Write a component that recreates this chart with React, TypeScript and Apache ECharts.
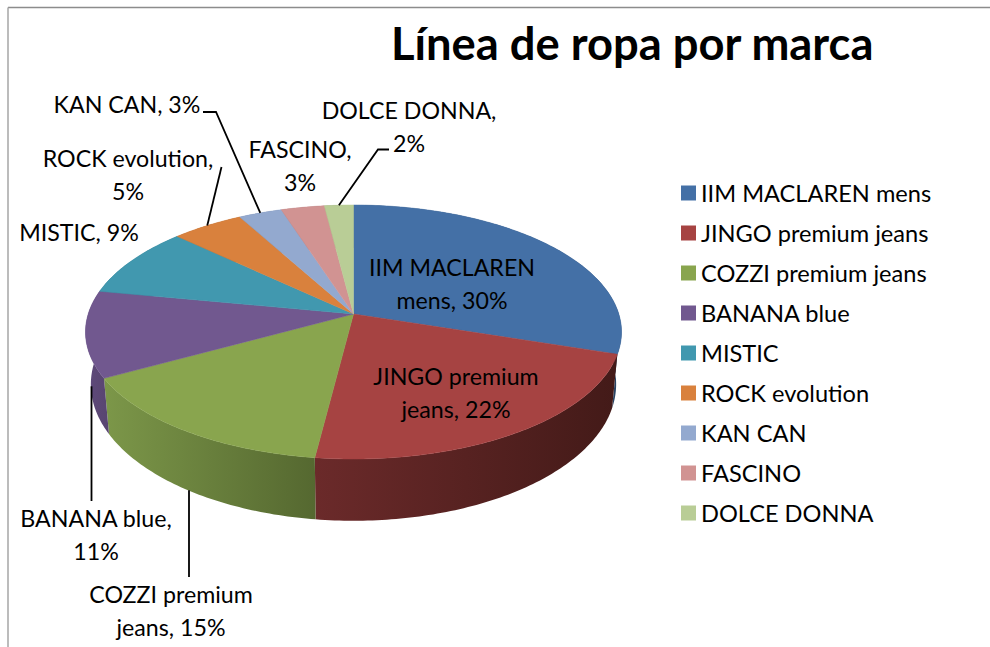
import React, { useEffect, useRef } from "react";
import * as echarts from "echarts";

const brands = ["IIM MACLAREN mens", "JINGO premium jeans", "COZZI premium jeans", "BANANA blue", "MISTIC", "ROCK evolution", "KAN CAN", "FASCINO", "DOLCE DONNA"];
const shares = [30, 22, 15, 11, 9, 5, 3, 3, 2];
const topColors = ["#4470a6", "#a64342", "#89a54e", "#71588f", "#4198af", "#d9813d", "#93a9cf", "#d19392", "#b9cd96"];
const sideLeft = ["#2f4e75", "#6b2a2a", "#7c9749", "#5f4a7b", "#2d6c7c", "#99592a", "#66769a", "#936665", "#82916a"];
const sideRight = ["#294464", "#431a18", "#556830", "#584570", "#2d6c7c", "#99592a", "#66769a", "#936665", "#82916a"];

// Where each label sits (centre x, centre y), the char index of its line break, elbow points of its leader
const labelSpots = [
  [452, 283], [456, 392.5], [171, 610.5], [96, 534.5], [79, 231.5], [128, 174], [127, 103.5], [300, 165], [409, 126],
];
const labelBreaks = [12, 13, 13, 12, -1, 15, -1, 8, 12];
const leaderPaths: (number[][] | null)[] = [
  null, null, [[189, 577]], [[91.5, 501]], null, [[221.5, 167]], [[203, 112], [216, 112]], null, [[389, 149.5], [378, 149.5]],
];

const CX = 353.5;
const total = shares.reduce((a, b) => a + b, 0);

// perspective projection of the pie's top disc
const rim = (pct: number) => {
  const t = (pct / total) * 2 * Math.PI;
  const u = Math.sin(t);
  const v = -Math.cos(t);
  const d = 1 - 0.1417 * v;
  return [CX + (265.3 * u) / d, (79.94 * v + 314) / d];
};
const lower = (p: number[]) => [CX + 0.98 * (p[0] - CX), 409 + 1.075 * (p[1] - 355)];

const renderSlice = (params: any, api: any) => {
  const i = params.seriesIndex;
  const value = api.value(0);
  const start = shares.slice(0, i).reduce((a, b) => a + b, 0);
  const end = start + value;
  const arc: number[][] = [];
  const steps = Math.max(2, Math.ceil(value * 4));
  for (let k = 0; k <= steps; k++) arc.push(rim(start + (value * k) / steps));
  const children: any[] = [];
  children.push({
    type: "polygon",
    z2: 1,
    shape: { points: [...arc, ...arc.map(lower).reverse()] },
    style: {
      fill: {
        type: "linear", x: 0, y: 0, x2: 1, y2: 0,
        colorStops: [{ offset: 0, color: sideLeft[i] }, { offset: 1, color: sideRight[i] }],
      },
    },
  });
  children.push({
    type: "polygon",
    z2: 5,
    shape: { points: [[CX, 314], ...arc] },
    style: { fill: topColors[i], stroke: topColors[i], lineWidth: 0.5 },
  });
  const mid = (start + end) / 2;
  const path = leaderPaths[i];
  if (path) {
    const midPt = rim(mid);
    const front = i === 2 || i === 3;
    const anchor = front ? [path[0][0], lower(midPt)[1]] : midPt;
    children.push({
      type: "polyline",
      z2: 8,
      shape: { points: [...path, anchor] },
      style: { stroke: "#000", lineWidth: 1.8, fill: "none" },
    });
  }
  let label = `${brands[i]}, ${value}%`;
  if (labelBreaks[i] >= 0) label = label.slice(0, labelBreaks[i]) + "\n" + label.slice(labelBreaks[i]).trim();
  children.push({
    type: "text",
    z2: 10,
    style: {
      x: labelSpots[i][0],
      y: labelSpots[i][1],
      text: label,
      textAlign: "center",
      textVerticalAlign: "middle",
      font: "23.2px Lato",
      lineHeight: 33,
      fill: "#000",
    },
  });
  return { type: "group", children };
};

export default function App() {
  const ref = useRef<HTMLDivElement>(null);
  useEffect(() => {
    const chart = echarts.init(ref.current!, null, { renderer: "svg" });
    chart.setOption({
      animation: false,
      backgroundColor: "#fff",
      color: topColors,
      title: {
        text: "Línea de ropa por marca",
        left: 391,
        top: 20,
        padding: 0,
        textStyle: { fontFamily: "Lato", fontSize: 45.3, fontWeight: "bold", color: "#000" },
      },
      legend: {
        orient: "vertical",
        left: 681,
        top: 181,
        padding: 0,
        itemWidth: 15,
        itemHeight: 15,
        itemGap: 16,
        icon: "rect",
        selectedMode: false,
        data: brands,
        textStyle: { fontFamily: "Lato", fontSize: 23.6, color: "#000" },
      },
      graphic: [
        { type: "line", shape: { x1: 8, y1: 7.5, x2: 990, y2: 7.5 }, style: { stroke: "#8c8c8c", lineWidth: 1.5 } },
        { type: "line", shape: { x1: 8, y1: 7.5, x2: 8, y2: 647 }, style: { stroke: "#a6a6a6", lineWidth: 1.5 } },
      ],
      series: brands.map((name, i) => ({
        type: "custom",
        name,
        coordinateSystem: "none",
        renderItem: renderSlice,
        data: [[shares[i]]],
        silent: true,
      })),
    });
    return () => chart.dispose();
  }, []);
  return <div ref={ref} style={{ position: "absolute", left: 0, top: 0, width: 990, height: 647 }} />;
}
